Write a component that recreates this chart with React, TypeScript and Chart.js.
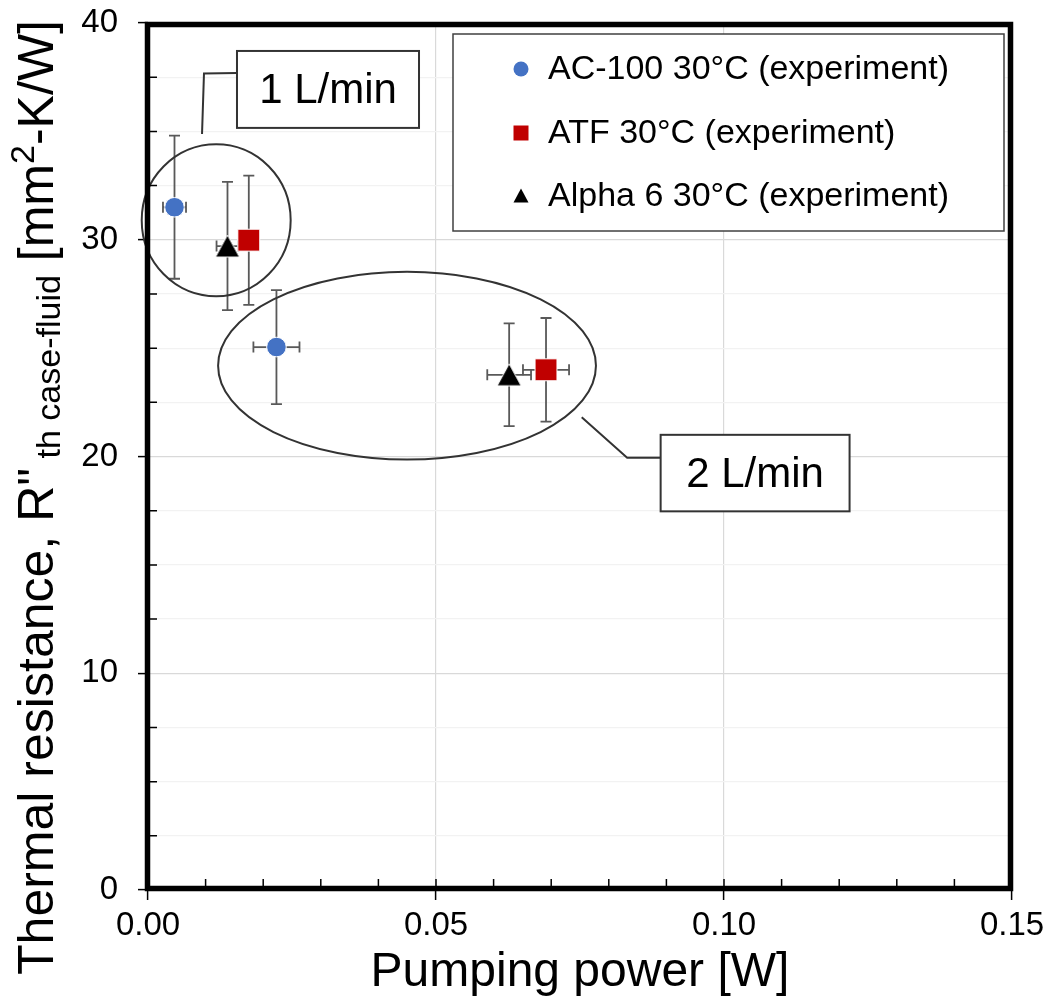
import React, { useEffect, useRef } from 'react';
import { Chart, registerables } from 'chart.js';

Chart.register(...registerables);

const FONT = '"Liberation Sans", Arial, Helvetica, sans-serif';

// ---- Data ----
const SERIES_LABELS = ['AC-100 30°C (experiment)', 'ATF 30°C (experiment)', 'Alpha 6 30°C (experiment)'];
const SERIES_COLORS = ['#4472C4', '#C00000', '#000000'];

const AC100_X = [0.0046, 0.0223];
const AC100_Y = [31.5, 25.05];
const AC100_XERR = [0.002, 0.004];
const AC100_YERR = [3.3, 2.63];

const ATF_X = [0.0175, 0.0691];
const ATF_Y = [29.98, 24.0];
const ATF_XERR = [0.001, 0.004];
const ATF_YERR = [2.98, 2.39];

const ALPHA_X = [0.0138, 0.0627];
const ALPHA_Y = [29.71, 23.77];
const ALPHA_XERR = [0.0019, 0.0038];
const ALPHA_YERR = [2.96, 2.37];

const X_TICK_LABELS = ['0.00', '0.05', '0.10', '0.15'];
const Y_TICK_LABELS = ['0', '10', '20', '30', '40'];
const X_TITLE = 'Pumping power [W]';
const FLOW_LABELS = ['1 L/min', '2 L/min'];

// annotation geometry in data units
const GROUP_ELLIPSES = [
  { cx: 0.01184, cy: 30.9, rx: 0.01293, ry: 3.51 },
  { cx: 0.04497, cy: 24.19, rx: 0.0328, ry: 4.33 },
];
const LABEL_BOXES = [
  { x0: 0.01545, x1: 0.04705, y0: 38.71, y1: 35.16 },
  { x0: 0.0890, x1: 0.1218, y0: 21.0, y1: 17.47 },
];
const LEADERS = [
  [[0.01545, 37.69], [0.00972, 37.67], [0.00938, 34.88]],
  [[0.0753, 21.81], [0.08319, 19.94], [0.0890, 19.94]],
];

const isMajorX = (v: number) => Math.abs(v / 0.05 - Math.round(v / 0.05)) < 1e-6;
const isMajorY = (v: number) => Math.abs(v / 10 - Math.round(v / 10)) < 1e-6;

function makeTriangle(size: number) {
  const c = document.createElement('canvas');
  const w = Math.round(size * 1.08) + 2;
  const h = size + 2;
  c.width = w;
  c.height = h;
  const g = c.getContext('2d')!;
  g.beginPath();
  g.moveTo(w / 2, 1);
  g.lineTo(w - 1, h - 1);
  g.lineTo(1, h - 1);
  g.closePath();
  g.fillStyle = '#000';
  g.fill();
  g.strokeStyle = '#ffffff';
  g.lineWidth = 1;
  g.stroke();
  return c;
}

const errorBarPlugin = {
  id: 'errorBars',
  beforeDatasetsDraw(chart: any) {
    const { ctx, scales } = chart;
    const xs = scales.x;
    const ys = scales.y;
    ctx.save();
    ctx.strokeStyle = '#595959';
    ctx.lineWidth = 1.8;
    const cap = 5.5;
    chart.data.datasets.forEach((ds: any) => {
      ds.data.forEach((p: any, i: number) => {
        const px = xs.getPixelForValue(p.x);
        const py = ys.getPixelForValue(p.y);
        const ye = ds.yErr[i];
        const xe = ds.xErr[i];
        const yt = ys.getPixelForValue(p.y + ye);
        const yb = ys.getPixelForValue(p.y - ye);
        const xl = xs.getPixelForValue(p.x - xe);
        const xr = xs.getPixelForValue(p.x + xe);
        ctx.beginPath();
        ctx.moveTo(px, yt); ctx.lineTo(px, yb);
        ctx.moveTo(px - cap, yt); ctx.lineTo(px + cap, yt);
        ctx.moveTo(px - cap, yb); ctx.lineTo(px + cap, yb);
        ctx.moveTo(xl, py); ctx.lineTo(xr, py);
        ctx.moveTo(xl, py - cap); ctx.lineTo(xl, py + cap);
        ctx.moveTo(xr, py - cap); ctx.lineTo(xr, py + cap);
        ctx.stroke();
      });
    });
    ctx.restore();
  },
};

const decorPlugin = {
  id: 'decor',
  afterDatasetsDraw(chart: any) {
    const { ctx, scales, chartArea } = chart;
    const xs = scales.x;
    const ys = scales.y;
    const X = (v: number) => xs.getPixelForValue(v);
    const Y = (v: number) => ys.getPixelForValue(v);
    ctx.save();

    // group ellipses
    ctx.strokeStyle = '#333333';
    ctx.lineWidth = 2;
    GROUP_ELLIPSES.forEach((e) => {
      const cx = X(e.cx);
      const cy = Y(e.cy);
      const rx = Math.abs(X(e.cx + e.rx) - cx);
      const ry = Math.abs(Y(e.cy + e.ry) - cy);
      ctx.beginPath();
      ctx.ellipse(cx, cy, rx, ry, 0, 0, Math.PI * 2);
      ctx.stroke();
    });

    // leader lines
    LEADERS.forEach((pts) => {
      ctx.beginPath();
      pts.forEach((p, i) => {
        if (i === 0) ctx.moveTo(X(p[0]), Y(p[1]));
        else ctx.lineTo(X(p[0]), Y(p[1]));
      });
      ctx.stroke();
    });

    // label boxes
    LABEL_BOXES.forEach((b, i) => {
      const x0 = X(b.x0), x1 = X(b.x1), y0 = Y(b.y0), y1 = Y(b.y1);
      ctx.fillStyle = '#ffffff';
      ctx.fillRect(x0, y0, x1 - x0, y1 - y0);
      ctx.strokeStyle = '#333333';
      ctx.lineWidth = 2;
      ctx.strokeRect(x0, y0, x1 - x0, y1 - y0);
      ctx.fillStyle = '#000';
      ctx.font = `42px ${FONT}`;
      ctx.textAlign = 'center';
      ctx.textBaseline = 'middle';
      ctx.fillText(FLOW_LABELS[i], (x0 + x1) / 2, (y0 + y1) / 2 + 2);
    });

    // legend
    const lx = 453, ly = 34, lw = 551, lh = 197;
    ctx.fillStyle = '#ffffff';
    ctx.fillRect(lx, ly, lw, lh);
    ctx.strokeStyle = '#404040';
    ctx.lineWidth = 1.5;
    ctx.strokeRect(lx, ly, lw, lh);
    const rows = [69, 133, 196];
    ctx.font = `34px ${FONT}`;
    ctx.textAlign = 'left';
    ctx.textBaseline = 'middle';
    SERIES_LABELS.forEach((label, i) => {
      const my = rows[i];
      const mx = 521;
      ctx.fillStyle = SERIES_COLORS[i];
      ctx.beginPath();
      if (i === 0) {
        ctx.arc(mx, my, 7.5, 0, Math.PI * 2);
      } else if (i === 1) {
        ctx.rect(mx - 7.5, my - 7.5, 15, 15);
      } else {
        ctx.moveTo(mx, my - 7.5);
        ctx.lineTo(mx + 7.5, my + 6.5);
        ctx.lineTo(mx - 7.5, my + 6.5);
        ctx.closePath();
      }
      ctx.fill();
      ctx.fillStyle = '#000';
      ctx.fillText(label, 548, my + 1);
    });

    // frame
    const { left, right, top, bottom } = chartArea;
    ctx.strokeStyle = '#000';
    ctx.lineWidth = 5.5;
    ctx.lineJoin = 'miter';
    ctx.strokeRect(left - 0.5, top + 1.5, right - left - 1, bottom - top - 3);

    // inner ticks
    ctx.lineWidth = 1.5;
    ctx.beginPath();
    xs.ticks.forEach((t: any) => {
      const v = t.value;
      if (v <= 1e-9 || v >= 0.15 - 1e-9) return;
      const px = X(v);
      ctx.moveTo(px, bottom - 2);
      ctx.lineTo(px, bottom - 11);
    });
    ys.ticks.forEach((t: any) => {
      const v = t.value;
      if (isMajorY(v)) return;
      const py = Y(v);
      ctx.moveTo(left, py);
      ctx.lineTo(left + 9, py);
    });
    ctx.stroke();

    // y title with sub/superscript
    const main = 50;
    const small = 34;
    const segs = [
      { t: 'Thermal resistance, R"', s: main, dy: 0 },
      { t: ' th case-fluid', s: small, dy: 7 },
      { t: ' [mm', s: main, dy: 0 },
      { t: '2', s: small, dy: -19 },
      { t: '-K/W]', s: main, dy: 0 },
    ];
    let total = 0;
    segs.forEach((sg) => {
      ctx.font = `${sg.s}px ${FONT}`;
      total += ctx.measureText(sg.t).width;
    });
    const target = 955;
    const sc = target / total;
    ctx.save();
    ctx.translate(53, 975);
    ctx.rotate(-Math.PI / 2);
    ctx.scale(sc, 1);
    ctx.fillStyle = '#000';
    ctx.textAlign = 'left';
    ctx.textBaseline = 'alphabetic';
    let cx = 0;
    segs.forEach((sg) => {
      ctx.font = `${sg.s}px ${FONT}`;
      ctx.fillText(sg.t, cx, sg.dy);
      cx += ctx.measureText(sg.t).width;
    });
    ctx.restore();

    ctx.restore();
  },
};

export default function App() {
  const ref = useRef<HTMLCanvasElement | null>(null);

  useEffect(() => {
    document.body.style.margin = '0';
    const canvas = ref.current;
    if (!canvas) return;
    const tri = makeTriangle(22);
    const mk = (xs: number[], ys: number[]) => xs.map((x, i) => ({ x, y: ys[i] }));

    const chart = new Chart(canvas, {
      type: 'scatter',
      data: {
        datasets: [
          {
            label: SERIES_LABELS[0],
            data: mk(AC100_X, AC100_Y),
            pointStyle: 'circle',
            pointRadius: 9.8,
            backgroundColor: SERIES_COLORS[0],
            borderColor: '#ffffff',
            pointBorderWidth: 1,
            xErr: AC100_XERR,
            yErr: AC100_YERR,
          } as any,
          {
            label: SERIES_LABELS[1],
            data: mk(ATF_X, ATF_Y),
            pointStyle: 'rect',
            pointRadius: 15.5,
            backgroundColor: SERIES_COLORS[1],
            borderColor: '#ffffff',
            pointBorderWidth: 1,
            xErr: ATF_XERR,
            yErr: ATF_YERR,
          } as any,
          {
            label: SERIES_LABELS[2],
            data: mk(ALPHA_X, ALPHA_Y),
            pointStyle: tri,
            pointRadius: 12,
            backgroundColor: SERIES_COLORS[2],
            borderColor: '#ffffff',
            xErr: ALPHA_XERR,
            yErr: ALPHA_YERR,
          } as any,
        ],
      },
      options: {
        responsive: false,
        animation: false,
        devicePixelRatio: 1,
        layout: { padding: { top: 23, right: 36, left: 0, bottom: 0 } },
        plugins: {
          legend: { display: false },
          tooltip: { enabled: false },
        },
        scales: {
          x: {
            type: 'linear',
            min: 0,
            max: 0.15,
            afterFit: (s: any) => { s.height = 116; s.paddingLeft = 0; s.paddingRight = 0; },
            ticks: {
              stepSize: 0.01,
              autoSkip: false,
              maxRotation: 0,
              padding: 6,
              color: '#000',
              font: { family: FONT, size: 33 },
              callback: (v: any) => {
                const n = Number(v);
                if (!isMajorX(n)) return '';
                return X_TICK_LABELS[Math.round(n / 0.05)] ?? '';
              },
            },
            grid: {
              color: (c: any) => (c.tick && isMajorX(c.tick.value) ? '#d9d9d9' : 'rgba(0,0,0,0)'),
              tickColor: (c: any) => (c.tick && isMajorX(c.tick.value) ? '#000' : 'rgba(0,0,0,0)'),
              tickLength: 10,
              tickWidth: 1.5,
              lineWidth: 1.2,
            },
            border: { display: false },
            title: {
              display: true,
              text: X_TITLE,
              color: '#000',
              font: { family: FONT, size: 48 },
              padding: { top: 0, bottom: 4 },
            },
          },
          y: {
            type: 'linear',
            min: 0,
            max: 40,
            afterFit: (s: any) => { s.width = 148; s.paddingTop = 0; s.paddingBottom = 0; },
            ticks: {
              stepSize: 2.5,
              autoSkip: false,
              padding: 20,
              color: '#000',
              font: { family: FONT, size: 33 },
              callback: (v: any) => {
                const n = Number(v);
                if (!isMajorY(n)) return '';
                return Y_TICK_LABELS[Math.round(n / 10)] ?? '';
              },
            },
            grid: {
              color: (c: any) => (c.tick && isMajorY(c.tick.value) ? '#d9d9d9' : '#f2f2f2'),
              tickColor: (c: any) => (c.tick && isMajorY(c.tick.value) ? '#000' : 'rgba(0,0,0,0)'),
              tickLength: 10,
              tickWidth: 1.5,
              lineWidth: 1.2,
            },
            border: { display: false },
            title: { display: false },
          },
        },
      },
      plugins: [errorBarPlugin, decorPlugin],
    });

    return () => chart.destroy();
  }, []);

  return (
    <div style={{ width: 1048, height: 1006 }}>
      <canvas ref={ref} width={1048} height={1006} style={{ display: 'block' }} />
    </div>
  );
}
